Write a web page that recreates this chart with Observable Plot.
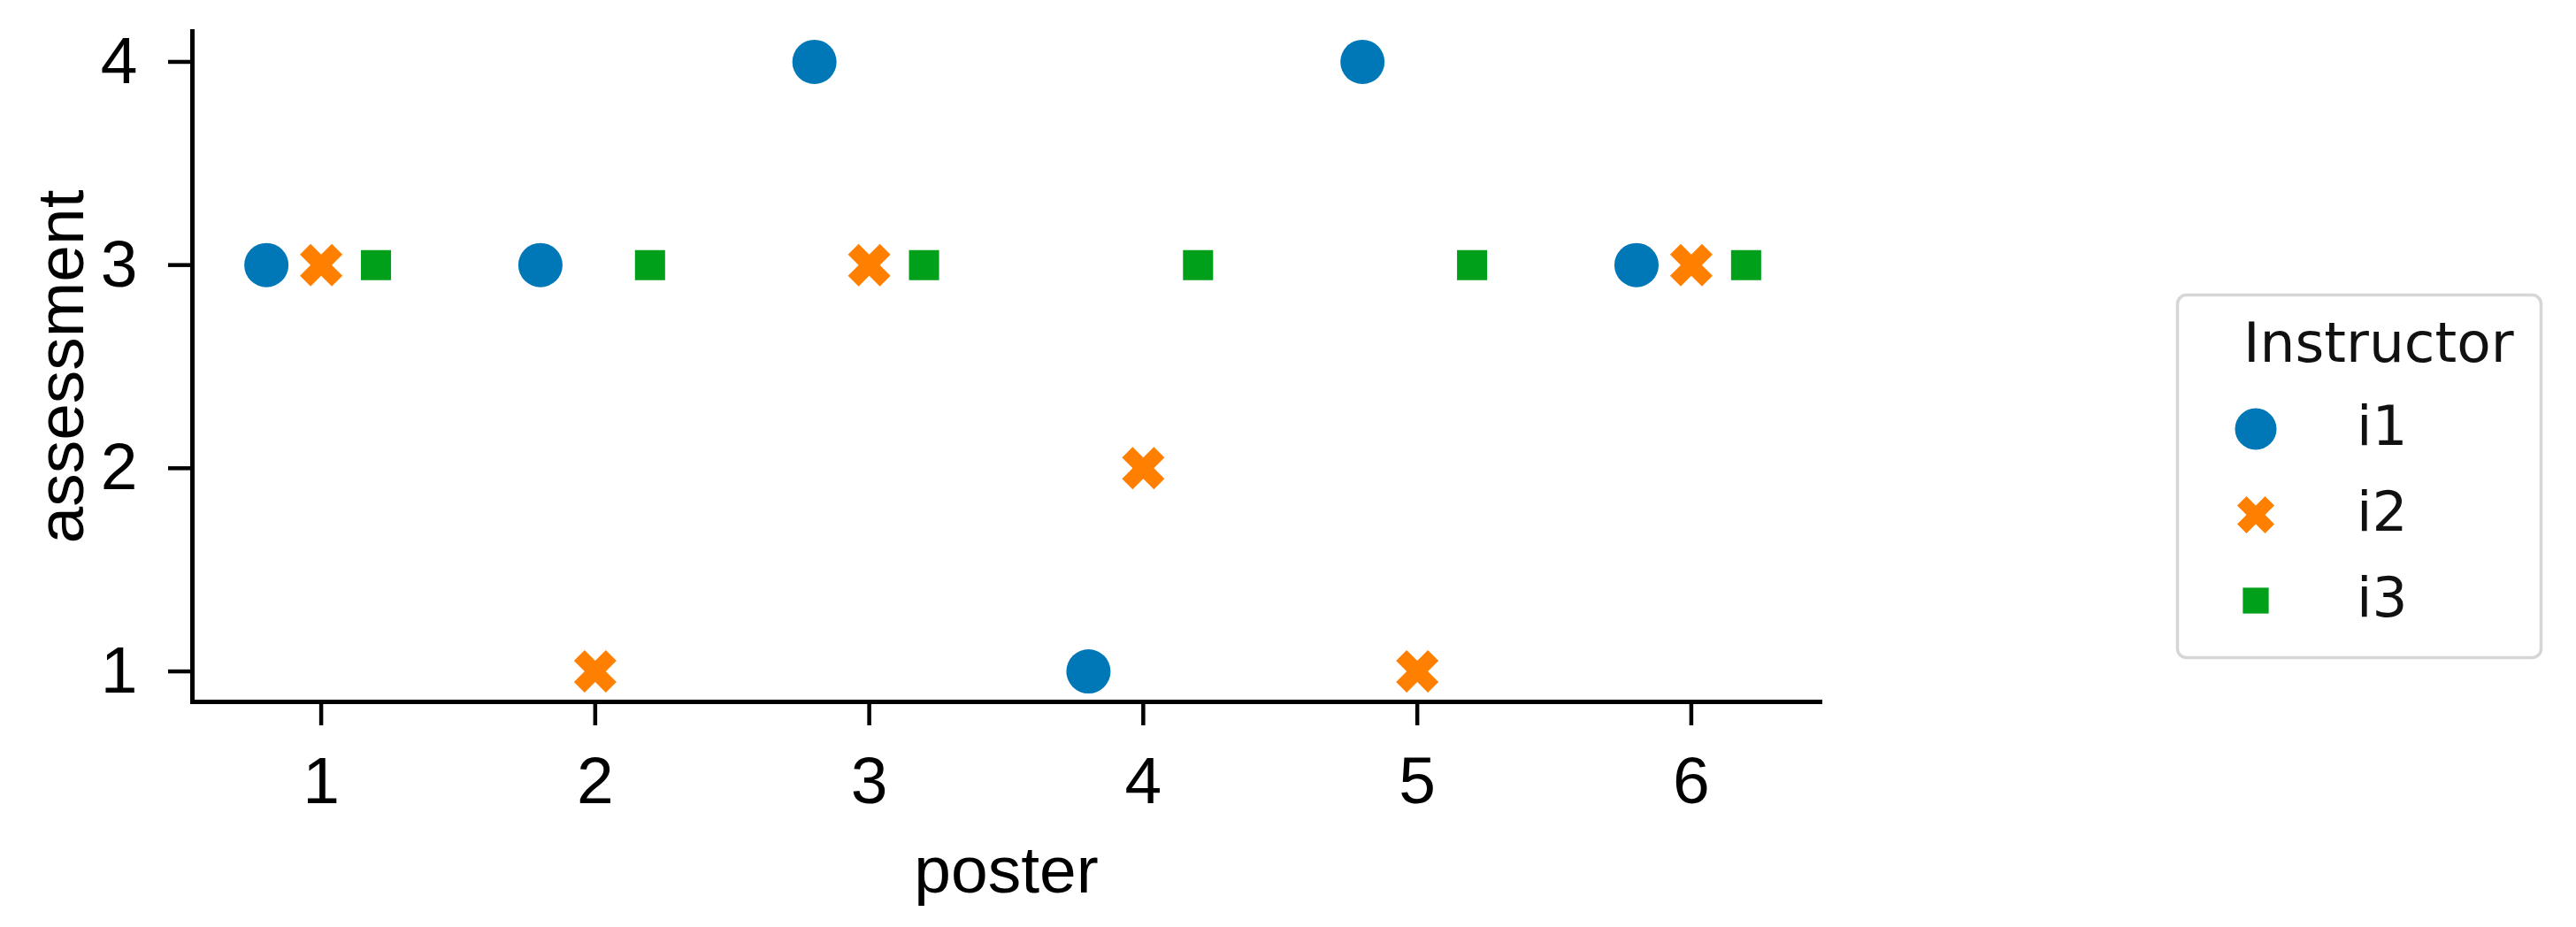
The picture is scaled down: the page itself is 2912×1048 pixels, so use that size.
<!DOCTYPE html>
<html><head><meta charset="utf-8">
<script src="https://cdn.jsdelivr.net/npm/d3@7"></script>
<script src="https://cdn.jsdelivr.net/npm/@observablehq/plot@0.6"></script>
<style>
html,body{margin:0;padding:0;background:#fff;}
#wrap{position:relative;width:2912px;height:1048px;}
#legend{position:absolute;left:0;top:0;pointer-events:none;}
</style></head><body><div id="wrap"></div>
<script>
const posters = [1, 2, 3, 4, 5, 6];
const instructors = ["i1", "i2", "i3"];
const i1 = [3, 3, 4, 1, 4, 3];
const i2 = [3, 1, 3, 2, 1, 3];
const i3 = [3, 3, 3, 3, 3, 3];
const dodge = [-0.2, 0, 0.2];
const colors = ["#0077b6", "#ff7f00", "#00a01a"];
const xTicks = [1, 2, 3, 4, 5, 6];
const yTicks = [1, 2, 3, 4];
const legendTitle = "Instructor";

const series = [i1, i2, i3];
const rows = instructors.flatMap((name, k) =>
  posters.map((p, j) => ({instructor: name, poster: p, pos: p + dodge[k], assessment: series[k][j]})));

// matplotlib-style filled "X" marker
const fatX = {
  draw(ctx, size) {
    const r = Math.sqrt(size / Math.PI);
    const u = r / (4 / Math.SQRT2);
    const pts = [[-1,-3],[1,-3],[1,-1],[3,-1],[3,1],[1,1],[1,3],[-1,3],[-1,1],[-3,1],[-3,-1],[-1,-1]];
    pts.forEach(([x, y], i) => {
      const X = (x - y) / Math.SQRT2 * u, Y = (x + y) / Math.SQRT2 * u;
      if (i) ctx.lineTo(X, Y); else ctx.moveTo(X, Y);
    });
    ctx.closePath();
  }
};
const symbols = [d3.symbolCircle, fatX, d3.symbolSquare];
const radii = [25, 24, 19.2];
const fmt = d3.format("d");

const chart = Plot.plot({
  width: 2912,
  height: 1048,
  marginLeft: 217,
  marginRight: 855,
  marginTop: 35,
  marginBottom: 255,
  style: {fontFamily: "'Liberation Sans', Arial, sans-serif", background: "white", color: "black", overflow: "visible"},
  x: {domain: [0.53, 6.47]},
  y: {domain: [0.85, 4.15]},
  marks: [
    Plot.axisY({ticks: yTicks, tickFormat: fmt, tickSize: 27, tickPadding: 35, fontSize: 75, strokeWidth: 4.5,
      label: "assessment", labelAnchor: "center", labelOffset: 177, labelArrow: "none"}),
    Plot.axisX({ticks: xTicks, tickFormat: fmt, tickSize: 27, tickPadding: 34, fontSize: 75, strokeWidth: 4.5,
      label: "poster", labelAnchor: "center", labelOffset: 215, labelArrow: "none"}),
    Plot.frame({anchor: "left", strokeWidth: 5, strokeLinecap: "square"}),
    Plot.frame({anchor: "bottom", strokeWidth: 5, strokeLinecap: "square"}),
    ...instructors.map((name, k) => Plot.dot(rows.filter(d => d.instructor === name), {
      x: "pos", y: "assessment", symbol: symbols[k], r: radii[k], fill: colors[k], stroke: "none"
    }))
  ]
});
const wrap = document.getElementById("wrap");
wrap.appendChild(chart);

// legend overlay
const svg = d3.select(wrap).append("svg").attr("id", "legend").attr("width", 2912).attr("height", 1048);
svg.append("rect").attr("x", 2461.5).attr("y", 333.5).attr("width", 411).attr("height", 410)
  .attr("rx", 10).attr("fill", "white").attr("stroke", "#d6d6d6").attr("stroke-width", 3.5);
svg.append("text").attr("x", 2536).attr("y", 409).text(legendTitle)
  .attr("font-family", "'DejaVu Sans', sans-serif").attr("font-size", 63).attr("fill", "#111");
const legY = [485, 582, 679];
const legR = [23.5, 21, 16.5];
instructors.forEach((name, k) => {
  svg.append("path").attr("transform", `translate(2550,${legY[k]})`)
    .attr("d", d3.symbol(symbols[k], legR[k] * legR[k] * Math.PI)())
    .attr("fill", colors[k]);
  svg.append("text").attr("x", 2664).attr("y", legY[k] + 18).text(name)
    .attr("font-family", "'DejaVu Sans', sans-serif").attr("font-size", 63).attr("fill", "#111");
});
</script></body></html>
